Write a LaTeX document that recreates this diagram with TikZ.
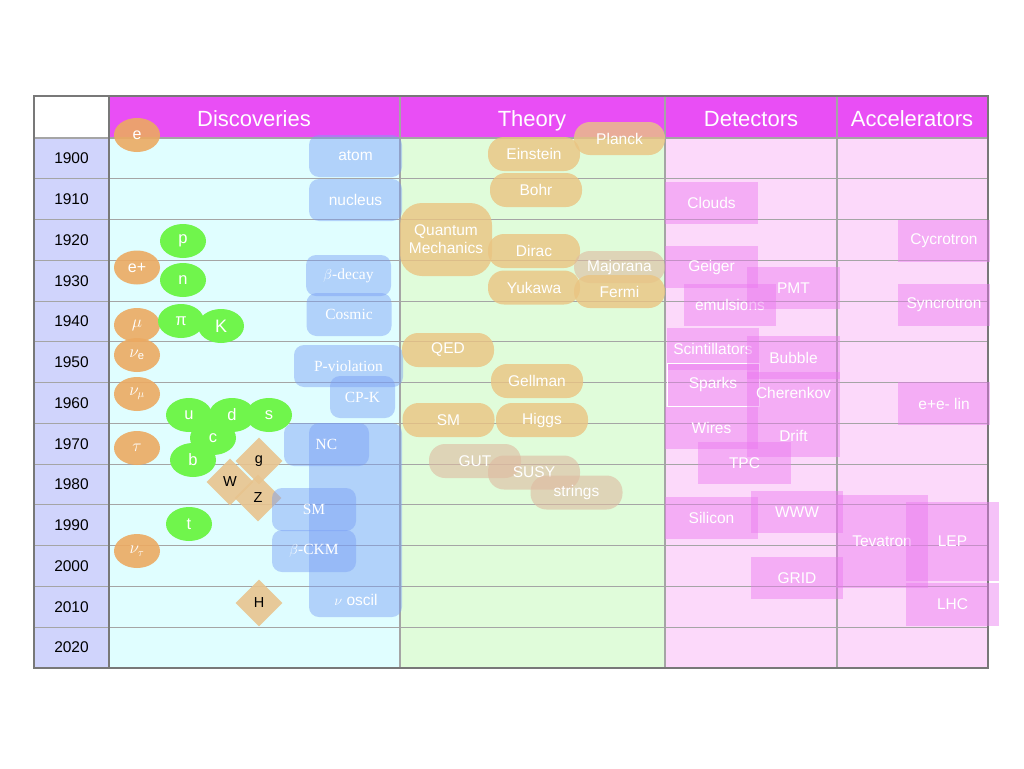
\documentclass[tikz,border=0pt]{standalone}
\usepackage{fontspec}
\setmainfont{Liberation Sans}
\newfontfamily\serifrm{Liberation Serif}
\usetikzlibrary{shapes.geometric}
\definecolor{hdrC}{RGB}{233,78,245}
\definecolor{yearC}{RGB}{208,212,252}
\definecolor{discC}{RGB}{224,254,255}
\definecolor{theoC}{RGB}{224,252,218}
\definecolor{detbgC}{RGB}{252,217,250}
\definecolor{gridC}{RGB}{165,165,165}
\definecolor{darkgridC}{RGB}{120,120,120}
\definecolor{orangeC}{RGB}{236,170,98}
\definecolor{greenC}{RGB}{112,245,76}
\definecolor{diamC}{RGB}{232,196,142}
\definecolor{blueC}{RGB}{120,158,245}
\definecolor{pillC}{RGB}{234,196,130}
\definecolor{greypillC}{RGB}{222,186,160}
\definecolor{detC}{RGB}{235,120,240}
\begin{document}
\begin{tikzpicture}[x=1pt,y=-1pt,
  wh/.style 2 args={minimum width=#1pt, minimum height=#2pt},
  base/.style={inner sep=0pt, text=white, text opacity=1, font=\fontsize{15.5}{18}\selectfont},
  orangeel/.style={base, ellipse, fill=orangeC, fill opacity=0.9, wh={46}{34}, font=\fontsize{16}{19}\selectfont},
  greenel/.style={base, ellipse, fill=greenC, wh={46}{34}, font=\fontsize{16.5}{19}\selectfont},
  diam/.style={base, diamond, fill=diamC, fill opacity=0.9, text=black, wh={47}{47}, font=\fontsize{14.5}{17}\selectfont},
  bluebox/.style={base, rectangle, rounded corners=10pt, fill=blueC, fill opacity=0.45, font=\serifrm\fontsize{15.5}{18}\selectfont},
  bluesans/.style={bluebox, font=\fontsize{15.5}{18}\selectfont},
  pill/.style={base, rectangle, rounded corners=16pt, fill=pillC, fill opacity=0.8, wh={92}{34}},
  greypill/.style={pill, fill=greypillC, fill opacity=0.6},
  detbox/.style={base, rectangle, fill=detC, fill opacity=0.45, wh={93}{42}},
  hdrlbl/.style={text=white, anchor=base, font=\fontsize{22}{25}\selectfont},
  yearlbl/.style={text=black, font=\fontsize{15.5}{18}\selectfont},
  gridline/.style={draw=gridC, line width=1.1pt},
  darkline/.style={draw=darkgridC, line width=1.1pt}
]
\useasboundingbox (0,0) rectangle (1024,768);
\fill[white] (0,0) rectangle (1024,768);
% backgrounds
\fill[hdrC] (109,96) rectangle (988,138);
\fill[yearC] (34,138) rectangle (109,668);
\fill[discC] (109,138) rectangle (400,668);
\fill[theoC] (400,138) rectangle (665,668);
\fill[detbgC] (665,138) rectangle (988,668);
% grid
\foreach \k in {0,...,13}
  \draw[gridline] (34,{138+\k*40.769}) -- (988,{138+\k*40.769});
\draw[gridline] (400,96) -- (400,668);
\draw[gridline] (665,96) -- (665,668);
\draw[gridline] (837,96) -- (837,668);
\draw[darkline] (109,96) -- (109,668);
\draw[darkline] (34,96) rectangle (988,668);
% headers
\node[hdrlbl] (hdisc) at (254,126) {Discoveries};
\node[hdrlbl] (htheo) at (532,126) {Theory};
\node[hdrlbl] (hdet) at (751,126) {Detectors};
\node[hdrlbl] (hacc) at (912,126) {Accelerators};
% years
\foreach \yr [count=\i from 0] in {1900,1910,...,2020}
  \node[yearlbl] (y\yr) at (71.5,{138+(\i+0.5)*40.769}) {\yr};
% leptons
\node[orangeel] (e) at (137,135) {e};
\node[orangeel] (ep) at (137,267.5) {e+};
\node[orangeel] (mu) at (137,325) {$\mu$};
\node[orangeel] (nue) at (137,355) {$\nu_{\mathrm{e}}$};
\node[orangeel] (numu) at (137,394) {$\nu_\mu$};
\node[orangeel] (tau) at (137,448) {$\tau$};
\node[orangeel] (nutau) at (137,551) {$\nu_\tau$};
% hadrons / quarks
\node[greenel] (p) at (183,241) {p};
\node[greenel] (n) at (183,280) {n};
\node[greenel] (pi) at (181,321) {π};
\node[greenel, font=\fontsize{18}{20}\selectfont] (K) at (221,326) {K};
\node[greenel] (u) at (189,415) {u};
\node[greenel] (d) at (232,415) {d};
\node[greenel] (s) at (269,415) {s};
\node[greenel] (c) at (213,438) {c};
\node[greenel] (b) at (193,460) {b};
\node[greenel] (t) at (189,524) {t};
% bosons
\node[diam] (g) at (259,461) {g};
\node[diam] (W) at (230,482) {W};
\node[diam] (Z) at (258,498) {Z};
\node[diam] (H) at (259,603) {H};
% blue discoveries
\node[bluesans, wh={93}{42}] (atom) at (355.5,156) {atom};
\node[bluesans, wh={93}{42}] (nucleus) at (355.5,200) {nucleus};
\node[bluebox, wh={85}{41}] (bdecay) at (348.5,275.5) {$\beta$-decay};
\node[bluebox, wh={85}{43}] (cosmic) at (349,314.5) {Cosmic};
\node[bluebox, wh={109}{42}] (pviol) at (348.5,366) {P-violation};
\node[bluebox, wh={65}{42}] (cpk) at (362.5,397) {CP-K};
\node[bluebox, wh={93}{194}] (oscil) at (355.5,520) {};
\node[text=white, font=\fontsize{15.5}{18}\selectfont] (osciltxt) at (356,600) {$\nu$ oscil};
\node[bluebox, wh={85}{43}] (nc) at (326.5,444.5) {NC};
\node[bluebox, wh={84}{43}] (smb) at (314,509.5) {SM};
\node[bluebox, wh={84}{42}] (bckm) at (314,551) {$\beta$-CKM};
% theory
\node[pill] (einstein) at (534,154) {Einstein};
\node[pill, wh={91}{33}] (planck) at (619.5,138.5) {Planck};
\node[pill] (bohr) at (536,190) {Bohr};
\node[pill, wh={92}{73}, rounded corners=22pt, align=center] (qm) at (446,239.5) {Quantum\\Mechanics};
\node[pill] (dirac) at (534,251) {Dirac};
\node[pill] (yukawa) at (534,287.5) {Yukawa};
\node[greypill, wh={91}{32}] (majorana) at (619.5,267) {Majorana};
\node[pill, wh={91}{33}] (fermi) at (619.5,291.5) {Fermi};
\node[pill] (qed) at (448,350) {QED};
\node[pill] (gellman) at (537,381) {Gellman};
\node[pill] (smt) at (448.5,420) {SM};
\node[pill] (higgs) at (542,420) {Higgs};
\node[greypill] (gut) at (475,461) {GUT};
\node[greypill] (susy) at (534,472.5) {SUSY};
\node[greypill] (strings) at (576.5,492.5) {strings};
% detectors
\node[detbox] (clouds) at (711.5,203) {Clouds};
\node[detbox] (geiger) at (711.5,267) {Geiger};
\node[detbox, wh={92}{42}] (emuls) at (730,305) {emulsions};
\node[detbox] (pmt) at (793.5,288) {PMT};
\node[detbox, wh={92}{42}] (scint) at (713,349) {Scintillators};
\node[detbox, wh={92}{43}, draw=white, draw opacity=1, line width=0.8pt] (sparks) at (713,384.5) {Sparks};
\node[detbox, wh={93}{43}] (bubble) at (793.5,357.5) {Bubble};
\node[detbox] (cherenkov) at (793.5,393) {Cherenkov};
\node[detbox] (wires) at (711.5,428) {Wires};
\node[detbox, wh={93}{43}] (drift) at (793.5,435.5) {Drift};
\node[detbox] (tpc) at (744.5,463) {TPC};
\node[detbox] (silicon) at (711.5,518) {Silicon};
\node[detbox, wh={92}{42}] (www) at (797,512) {WWW};
\node[detbox, wh={92}{42}] (grid) at (797,578) {GRID};
% accelerators
\node[detbox, wh={92}{42}] (cyc) at (944,241) {Cycrotron};
\node[detbox, wh={92}{42}] (syn) at (944,305) {Syncrotron};
\node[detbox, wh={92}{43}] (eelin) at (944,403.5) {e+e- lin};
\node[detbox, wh={92}{93}] (tevatron) at (882,541.5) {Tevatron};
\node[detbox, wh={93}{79}] (lep) at (952.5,541.5) {LEP};
\node[detbox, wh={93}{43}] (lhc) at (952.5,604.5) {LHC};
\end{tikzpicture}
\end{document}
